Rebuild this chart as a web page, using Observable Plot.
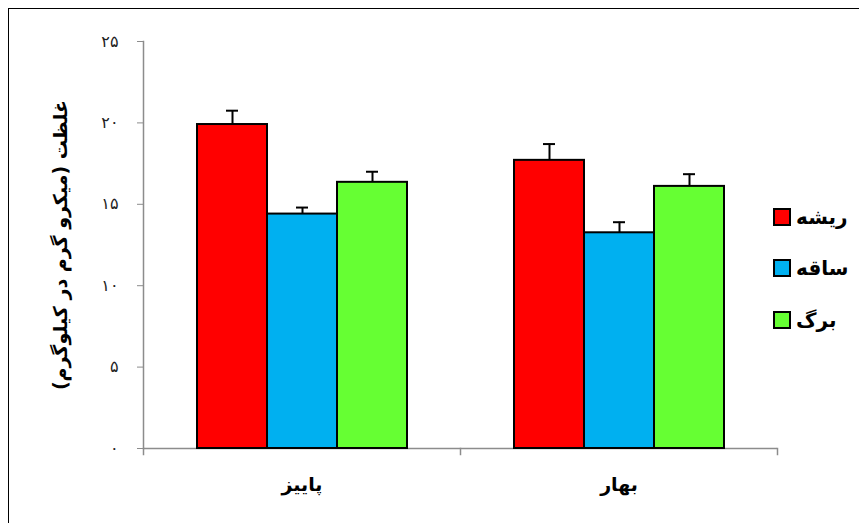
<!DOCTYPE html>
<html>
<head>
<meta charset="utf-8">
<script src="https://cdn.jsdelivr.net/npm/d3@7"></script>
<script src="https://cdn.jsdelivr.net/npm/@observablehq/plot@0.6"></script>
<style>
  html, body { margin: 0; padding: 0; background: #fff; }
  #wrap { position: relative; width: 859px; height: 523px; overflow: hidden; background: #fff; font-family: "DejaVu Sans", sans-serif; }
  #border { position: absolute; left: 8px; top: 8px; width: 1000px; height: 1000px; border: 1.5px solid #000; box-sizing: border-box; }
  #chart { position: absolute; left: 0; top: 0; }
  #legend { position: absolute; left: 773px; top: 191px; }
  .item { display: flex; align-items: center; height: 51.5px; direction: ltr; }
  .sw { width: 14px; height: 14px; border: 2px solid #000; }
  .lab { margin-left: 5px; font-weight: bold; font-size: 20px; color: #000; }
</style>
</head>
<body>
<div id="wrap">
  <div id="border"></div>
  <div id="chart"></div>
  <div id="legend"></div>
</div>
<script>
const seasons = ["پاییز", "بهار"];
const parts = ["ریشه", "ساقه", "برگ"];
const colors = ["#FF0000", "#00B0F0", "#66FF33"];
const autumnValues = [19.9, 14.4, 16.35];
const autumnErrors = [0.85, 0.4, 0.65];
const springValues = [17.7, 13.25, 16.1];
const springErrors = [1.0, 0.65, 0.75];
const yTicks = [0, 5, 10, 15, 20, 25];
const yTickLabels = ["۰", "۵", "۱۰", "۱۵", "۲۰", "۲۵"];
const yLabel = "غلظت (میکرو گرم در کیلوگرم)";

const valuesBySeason = [autumnValues, springValues];
const errorsBySeason = [autumnErrors, springErrors];
const rows = seasons.flatMap((s, i) => parts.map((p, j) => ({
  season: s, part: p, value: valuesBySeason[i][j], err: errorsBySeason[i][j]
})));

const axisGray = "#8c8c8c";
const chart = Plot.plot({
  width: 859,
  height: 523,
  marginLeft: 143,
  marginRight: 82,
  marginTop: 41,
  marginBottom: 75,
  style: { fontFamily: "DejaVu Sans, sans-serif", background: "transparent" },
  fx: { domain: seasons, padding: 0 },
  x: { domain: parts, paddingInner: 0, paddingOuter: 0.75, axis: null },
  y: { domain: [0, 25], axis: null },
  color: { domain: parts, range: colors },
  marks: [
    Plot.frame({ anchor: "left", facetAnchor: "left", stroke: axisGray, strokeWidth: 1.5 }),
    Plot.ruleY([0], { stroke: axisGray, strokeWidth: 1.5 }),
    Plot.frame({ anchor: "left", stroke: axisGray, strokeWidth: 1.5, insetTop: 407, insetBottom: -6 }),
    Plot.frame({ anchor: "right", facetAnchor: "right", stroke: axisGray, strokeWidth: 1.5, insetTop: 407, insetBottom: -6 }),
    Plot.axisY({
      ticks: yTicks,
      tickFormat: d => yTickLabels[yTicks.indexOf(d)],
      tickSize: 6, tickPadding: 19,
      stroke: axisGray, color: "#222", fill: "#222",
      fontSize: 16, label: null
    }),
    Plot.axisFx({ anchor: "bottom", tickSize: 0, tickPadding: 29, fontSize: 19, fontWeight: "bold", label: null, color: "#000", fill: "#000" }),
    Plot.barY(rows, { fx: "season", x: "part", y: "value", fill: "part", stroke: "#000", strokeWidth: 2 }),
    Plot.ruleX(rows, { fx: "season", x: "part", y1: "value", y2: d => d.value + d.err, stroke: "#000", strokeWidth: 2 }),
    Plot.tickY(rows, { fx: "season", x: "part", y: d => d.value + d.err, stroke: "#000", strokeWidth: 2, insetLeft: 29, insetRight: 29 }),
    Plot.text([yLabel], { frameAnchor: "left", facetAnchor: "left", textAnchor: "middle", rotate: -90, dx: -83, fontSize: 19, fontWeight: "bold", fill: "#000" })
  ]
});
document.getElementById("chart").appendChild(chart);

const legend = document.getElementById("legend");
parts.forEach((p, i) => {
  const item = document.createElement("div");
  item.className = "item";
  const sw = document.createElement("div");
  sw.className = "sw";
  sw.style.background = colors[i];
  const lab = document.createElement("div");
  lab.className = "lab";
  lab.textContent = p;
  item.appendChild(sw);
  item.appendChild(lab);
  legend.appendChild(item);
});
</script>
</body>
</html>
